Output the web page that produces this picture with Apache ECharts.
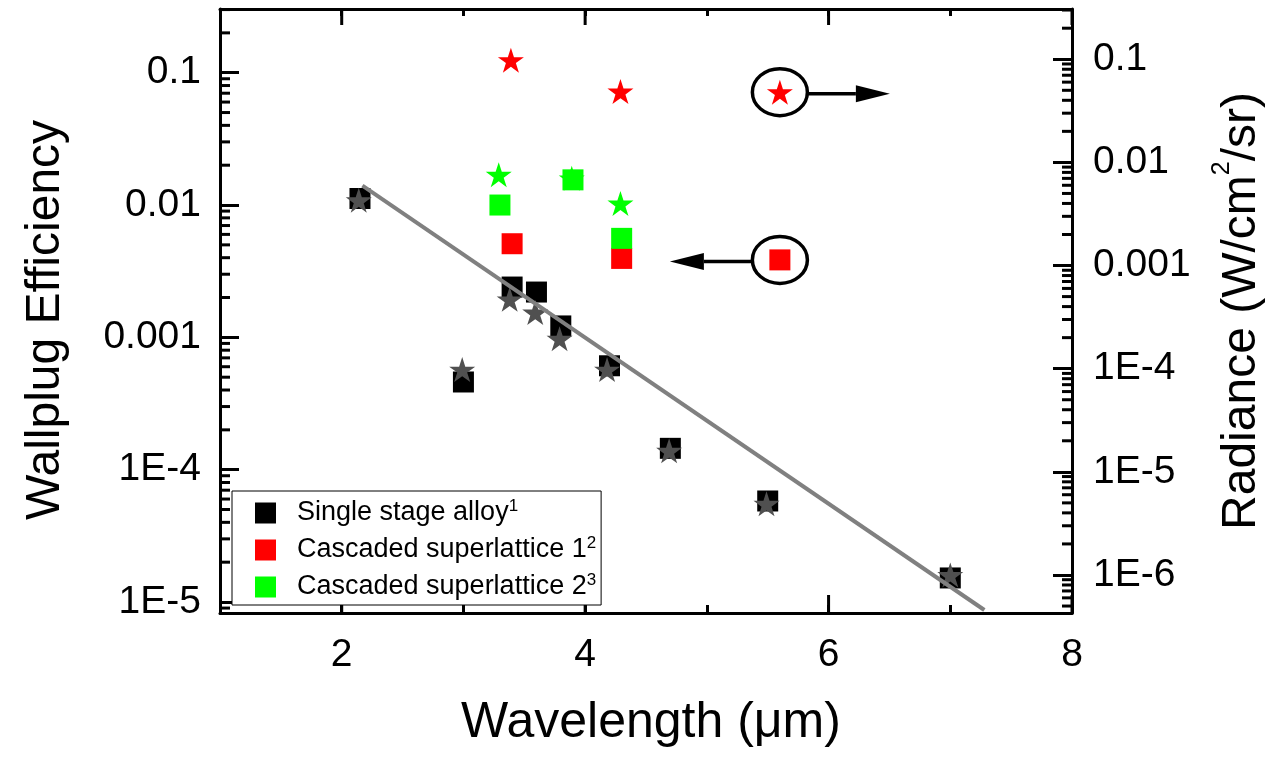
<!DOCTYPE html>
<html><head><meta charset="utf-8">
<script src="https://cdn.jsdelivr.net/npm/echarts@6/dist/echarts.min.js"></script>
<style>html,body{margin:0;padding:0;background:#fff}#c{width:1288px;height:759px}</style>
</head><body><div id="c"></div>
<script>
// ---- data ----
const seriesNames = ['Single stage alloy', 'Cascaded superlattice 1', 'Cascaded superlattice 2'];
const seriesSup = ['1', '2', '3'];
// Wallplug efficiency (squares, left axis)
const singleWpeX = [2.15, 3.0, 3.4, 3.6, 3.8, 4.2, 4.7, 5.5, 7.0];
const singleWpeY = [0.0112, 4.6e-4, 2.4e-3, 2.2e-3, 1.22e-3, 6.1e-4, 1.45e-4, 5.8e-5, 1.52e-5];
const cascade1WpeX = [3.4, 4.3, 5.6];
const cascade1WpeY = [5.1e-3, 3.95e-3, 3.85e-3];
const cascade2WpeX = [3.3, 3.9, 4.3];
const cascade2WpeY = [0.0100, 0.0155, 5.6e-3];
// Radiance (stars, right axis)
const singleRadX = [2.14, 2.99, 3.38, 3.59, 3.79, 4.18, 4.69, 5.49, 7.0];
const singleRadY = [4.3e-3, 9.8e-5, 4.7e-4, 3.5e-4, 1.95e-4, 9.8e-5, 1.6e-5, 4.9e-6, 1.0e-6];
const cascade1RadX = [3.39, 4.29, 5.6];
const cascade1RadY = [0.098, 0.0486, 0.048];
const cascade2RadX = [3.29, 3.89, 4.29];
const cascade2RadY = [7.6e-3, 7.0e-3, 4.0e-3];
// Fit line (left axis)
const fitX = [2.17, 7.28];
const fitY = [0.014, 8.7e-6];
// Tick labels
const xTickValues = [2, 4, 6, 8];
const xTickLabels = ['2', '4', '6', '8'];
const leftTickValues = [1e-5, 1e-4, 1e-3, 1e-2, 1e-1];
const leftTickLabels = ['1E-5', '1E-4', '0.001', '0.01', '0.1'];
const rightTickValues = [1e-6, 1e-5, 1e-4, 1e-3, 1e-2, 1e-1];
const rightTickLabels = ['1E-6', '1E-5', '1E-4', '0.001', '0.01', '0.1'];

// ---- helpers ----
const FONT = '"Liberation Sans", Arial, Helvetica, sans-serif';
const zip = (xs, ys) => xs.map((x, i) => [x, ys[i]]);
function labelFor(vals, labels) {
  return function (v) {
    for (let i = 0; i < vals.length; i++) {
      if (Math.abs(Math.log10(v) - Math.log10(vals[i])) < 1e-6) return labels[i];
    }
    return '';
  };
}
function minorVals(lo, hi) {
  const out = [];
  for (let e = -9; e <= 0; e++) for (let m = 2; m <= 9; m++) {
    const v = m * Math.pow(10, e);
    if (v > lo && v < hi) out.push(v);
  }
  return out;
}
const STAR = 'path://M0,-100L22.45,-30.9L95.1,-30.9L36.33,11.8L58.8,80.9L0,38.2L-58.8,80.9L-36.33,11.8L-95.1,-30.9L-22.45,-30.9Z';

const X_MIN = 1, X_MAX = 8;
const L_MIN = 8.26e-6, L_MAX = 0.303;
const R_MIN = 4.28e-7, R_MAX = 0.307;

const chart = echarts.init(document.getElementById('c'), null, { renderer: 'canvas' });

const axisLineStyle = { color: '#000', width: 3 };
const tickStyle = { color: '#000', width: 3 };

function sq(name, xs, ys, color) {
  return { name: name, type: 'scatter', xAxisIndex: 0, yAxisIndex: 0, symbol: 'rect', symbolSize: 21,
    itemStyle: { color: color, opacity: 1 }, data: zip(xs, ys), z: 3 };
}
function star(name, xs, ys, color) {
  return { name: name, type: 'scatter', xAxisIndex: 0, yAxisIndex: 1, symbol: STAR, symbolSize: [26, 25],
    itemStyle: { color: color, opacity: 1 }, data: zip(xs, ys), z: 4 };
}

const option = {
  backgroundColor: '#fff',
  animation: false,
  textStyle: { fontFamily: FONT },
  grid: { left: 220, right: 216, top: 9, bottom: 146, containLabel: false },
  legend: {
    orient: 'vertical', left: 232, top: 491,
    data: seriesNames.map(n => ({ name: n, icon: 'rect' })),
    itemWidth: 21, itemHeight: 21, itemGap: 7,
    padding: [7, 5, 3, 23],
    backgroundColor: '#fff', borderColor: '#000', borderWidth: 1, borderRadius: 0,
    selectedMode: false,
    formatter: n => n + '{sup|' + seriesSup[seriesNames.indexOf(n)] + '}',
    textStyle: {
      fontSize: 27, lineHeight: 30, color: '#000', fontFamily: FONT, padding: [0, 0, 0, 16],
      rich: { sup: { fontSize: 17, verticalAlign: 'top', color: '#000', fontFamily: FONT } }
    },
    z: 10
  },
  xAxis: [
    { type: 'value', position: 'bottom', min: X_MIN, max: X_MAX, interval: 1,
      axisLine: { lineStyle: axisLineStyle }, splitLine: { show: false },
      axisTick: { inside: true, length: 8, lineStyle: tickStyle },
      axisLabel: { fontSize: 39, color: '#000', fontFamily: FONT, margin: 23,
        formatter: v => { const i = xTickValues.indexOf(v); return i >= 0 ? xTickLabels[i] : ''; } },
      name: 'Wavelength (\u03bcm)', nameLocation: 'middle', nameGap: 82,
      nameTextStyle: { fontSize: 50, lineHeight: 56, color: '#000', fontFamily: FONT, padding: [0, 0, 0, 10] } },
    { type: 'value', position: 'top', min: X_MIN, max: X_MAX, interval: 1,
      axisLine: { lineStyle: axisLineStyle }, splitLine: { show: false },
      axisTick: { inside: true, length: 7, lineStyle: tickStyle },
      axisLabel: { show: false } }
  ],
  yAxis: [
    { type: 'log', logBase: 10, position: 'left', min: L_MIN, max: L_MAX,
      axisLine: { lineStyle: axisLineStyle }, splitLine: { show: false },
      axisTick: { inside: true, length: 19, lineStyle: tickStyle },
      axisLabel: { fontSize: 39, color: '#000', fontFamily: FONT, margin: 19,
        showMinLabel: false, showMaxLabel: false,
        formatter: labelFor(leftTickValues, leftTickLabels) },
      name: 'Wallplug Efficiency', nameLocation: 'middle', nameGap: 146, nameRotate: 90,
      nameTextStyle: { fontSize: 48, lineHeight: 56, color: '#000', fontFamily: FONT, padding: [0, 18, 0, 0] } },
    { type: 'log', logBase: 10, position: 'right', min: R_MIN, max: R_MAX,
      axisLine: { lineStyle: axisLineStyle }, splitLine: { show: false },
      axisTick: { inside: true, length: 19, lineStyle: tickStyle },
      axisLabel: { fontSize: 39, color: '#000', fontFamily: FONT, margin: 21,
        showMinLabel: false, showMaxLabel: false,
        formatter: labelFor(rightTickValues, rightTickLabels) },
      name: 'Radiance (W/cm{sup|2}/sr)', nameLocation: 'middle', nameGap: 138, nameRotate: 90,
      nameTextStyle: { fontSize: 48, lineHeight: 64, color: '#000', fontFamily: FONT,
        rich: { sup: { fontSize: 25, verticalAlign: 'top', color: '#000', fontFamily: FONT } } } }
  ],
  series: [
    // minor ticks, left log axis
    { type: 'custom', xAxisIndex: 0, yAxisIndex: 0, silent: true, z: 1,
      data: minorVals(L_MIN, L_MAX).map(v => [X_MIN, v]),
      renderItem: (params, api) => {
        const cs = params.coordSys; const y = api.coord([api.value(0), api.value(1)])[1];
        return { type: 'line', shape: { x1: cs.x, y1: y, x2: cs.x + 10, y2: y }, style: { stroke: '#000', lineWidth: 3 } };
      } },
    // minor ticks, right log axis
    { type: 'custom', xAxisIndex: 0, yAxisIndex: 1, silent: true, z: 1,
      data: minorVals(R_MIN, R_MAX).map(v => [X_MAX, v]),
      renderItem: (params, api) => {
        const cs = params.coordSys; const y = api.coord([api.value(0), api.value(1)])[1];
        const xr = cs.x + cs.width;
        return { type: 'line', shape: { x1: xr - 10, y1: y, x2: xr, y2: y }, style: { stroke: '#000', lineWidth: 3 } };
      } },
    // major x ticks (long) at labelled values, top and bottom
    { type: 'custom', xAxisIndex: 0, yAxisIndex: 0, silent: true, z: 1,
      data: xTickValues.map(v => [v, 1e-3]),
      renderItem: (params, api) => {
        const cs = params.coordSys; const x = api.coord([api.value(0), api.value(1)])[0];
        const yb = cs.y + cs.height, yt = cs.y;
        return { type: 'group', children: [
          { type: 'line', shape: { x1: x, y1: yb - 18, x2: x, y2: yb }, style: { stroke: '#000', lineWidth: 3 } },
          { type: 'line', shape: { x1: x, y1: yt, x2: x, y2: yt + 16 }, style: { stroke: '#000', lineWidth: 3 } }
        ] };
      } },
    sq(seriesNames[0], singleWpeX, singleWpeY, '#000000'),
    sq(seriesNames[1], cascade1WpeX, cascade1WpeY, '#ff0000'),
    sq(seriesNames[2], cascade2WpeX, cascade2WpeY, '#00ff00'),
    star('Single stage alloy radiance', singleRadX, singleRadY, '#505050'),
    star('Cascaded superlattice 1 radiance', cascade1RadX, cascade1RadY, '#ff0000'),
    star('Cascaded superlattice 2 radiance', cascade2RadX, cascade2RadY, '#00ff00'),
    { name: 'fit', type: 'line', xAxisIndex: 0, yAxisIndex: 0, data: zip(fitX, fitY), symbol: 'none',
      lineStyle: { color: '#808080', width: 4 }, z: 5, silent: true }
  ]
};
chart.setOption(option);

// ---- annotations: circles + arrows around the highlighted points ----
const pStar = chart.convertToPixel({ xAxisIndex: 0, yAxisIndex: 1 }, [cascade1RadX[2], cascade1RadY[2]]);
const pSq = chart.convertToPixel({ xAxisIndex: 0, yAxisIndex: 0 }, [cascade1WpeX[2], cascade1WpeY[2]]);
const RX = 27.5, RY = 23.5, LW = 3.5;
function ann(p, dir) {
  const cx = p[0], cy = p[1], ay = cy + 1.5;
  const start = cx + dir * RX, base = cx + dir * 76, tip = cx + dir * 110;
  return [
    { type: 'ellipse', z: 20, shape: { cx: cx, cy: cy, rx: RX, ry: RY }, style: { fill: 'none', stroke: '#000', lineWidth: LW } },
    { type: 'line', z: 20, shape: { x1: start, y1: ay, x2: base, y2: ay }, style: { stroke: '#000', lineWidth: LW } },
    { type: 'polygon', z: 20, shape: { points: [[base, ay - 8.5], [tip, ay], [base, ay + 8.5]] }, style: { fill: '#000' } }
  ];
}
chart.setOption({ graphic: ann(pStar, 1).concat(ann(pSq, -1)) });
</script></body></html>
